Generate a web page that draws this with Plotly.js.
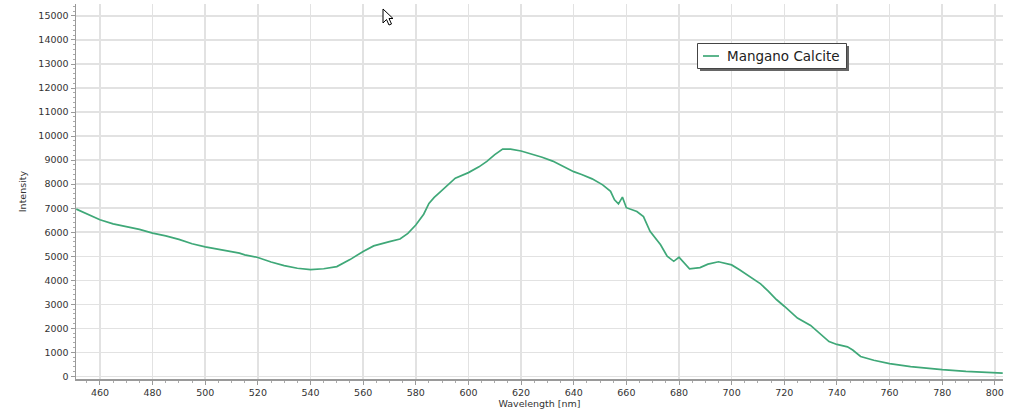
<!DOCTYPE html>
<html>
<head>
<meta charset="utf-8">
<script src="https://cdn.plot.ly/plotly-3.0.1.min.js"></script>
<style>html,body{margin:0;padding:0;background:#fff;}#chart{width:1024px;height:419px;}</style>
</head>
<body>
<div id="chart"></div>
<script>
const seriesName = "Mangano Calcite";
const wavelength = [451,455,460,465,470,475,480,485,490,495,500,505,510,513,515,520,525,530,535,540,545,550,555,560,564,567,570,574,577,580,583,585,587,589,592,595,600,604,607,610,613,616,620,624,628,632,636,640,643,647,651,654,655.5,657,658.5,660,664,666.5,669,673,675.5,678,680,681.5,684,688,691,695,698,700,703,707,711,714,717,720,725,730,734,737,740,744,746,749,754,760,768,775,780,789,795,800,803];
const intensity = [6960,6750,6520,6350,6230,6120,5960,5850,5700,5520,5390,5300,5200,5130,5060,4950,4760,4610,4500,4440,4480,4570,4860,5200,5430,5530,5610,5720,5950,6300,6750,7200,7450,7650,7950,8250,8480,8720,8950,9230,9460,9460,9380,9260,9120,8960,8750,8520,8400,8220,7970,7700,7350,7180,7460,7020,6860,6650,6040,5480,5000,4790,4960,4780,4480,4530,4670,4770,4700,4640,4440,4150,3850,3540,3200,2920,2430,2120,1730,1450,1330,1230,1100,830,670,530,410,330,280,210,180,160,140];
const xTicks = [460,480,500,520,540,560,580,600,620,640,660,680,700,720,740,760,780,800];
const yTicks = [0,1000,2000,3000,4000,5000,6000,7000,8000,9000,10000,11000,12000,13000,14000,15000];

const lineColor = '#3fa878';
const W = 1024, H = 419, L = 76, R = 21, T = 4, B = 40;
const pw = W - L - R, ph = H - T - B;
function pxn(x){ return (x - L) / pw; }
function pyn(y){ return (H - B - y) / ph; }
const cur = [[383,9],[383,23],[386.5,19.5],[389,25],[391.5,24],[389,18.5],[393,18.5]];
const curPath = 'M' + cur.map(p => pxn(p[0]).toFixed(5) + ',' + pyn(p[1]).toFixed(5)).join(' L') + ' Z';

const trace = {
  x: wavelength, y: intensity, type: 'scatter', mode: 'lines', name: seriesName,
  line: {color: lineColor, width: 1.7}, showlegend: false
};
const fam = 'DejaVu Sans, Verdana, sans-serif';
const axFont = {family: fam, size: 9.5, color: '#333'};
const legL = 697.5, legR = 846.5, legT = 43.5, legB = 68.5;
const layout = {
  width: W, height: H,
  margin: {l: L, r: R, t: T, b: B},
  paper_bgcolor: '#fff', plot_bgcolor: '#fff',
  showlegend: false,
  xaxis: {
    range: [450.9, 803.1], tickvals: xTicks, ticktext: xTicks.map(String),
    showgrid: true, gridcolor: '#e2e2e2', gridwidth: 1.5,
    showline: true, linecolor: '#9a9a9a', linewidth: 1.5,
    ticks: 'outside', ticklen: 4, tickcolor: '#9a9a9a',
    minor: {dtick: 5, tick0: 0, ticks: 'outside', ticklen: 2, tickcolor: '#aaa', showgrid: false},
    tickfont: axFont, zeroline: false,
    title: {text: 'Wavelength [nm]', font: {family: fam, size: 9.5, color: '#333'}, standoff: 2}
  },
  yaxis: {
    range: [-108, 15497], tickvals: yTicks, ticktext: yTicks.map(String),
    showgrid: true, gridcolor: '#e2e2e2', gridwidth: 1.5,
    showline: true, linecolor: '#9a9a9a', linewidth: 1.5,
    ticks: 'outside', ticklen: 4, tickcolor: '#9a9a9a',
    minor: {dtick: 200, tick0: 0, ticks: 'outside', ticklen: 2, tickcolor: '#aaa', showgrid: false},
    tickfont: axFont, zeroline: false,
    title: {text: 'Intensity', font: {family: fam, size: 9.5, color: '#333'}, standoff: 10}
  },
  shapes: [
    {type: 'rect', xref: 'paper', yref: 'paper', layer: 'above',
     x0: pxn(legL + 2.5), x1: pxn(legR + 2.5), y0: pyn(legB + 2.5), y1: pyn(legT + 2.5),
     fillcolor: '#666', line: {width: 0}},
    {type: 'rect', xref: 'paper', yref: 'paper', layer: 'above',
     x0: pxn(legL), x1: pxn(legR), y0: pyn(legB), y1: pyn(legT),
     fillcolor: '#fff', line: {color: '#444', width: 1}},
    {type: 'line', xref: 'paper', yref: 'paper', layer: 'above',
     x0: pxn(703), x1: pxn(719), y0: pyn(56), y1: pyn(56),
     line: {color: lineColor, width: 1.7}},
    {type: 'path', xref: 'paper', yref: 'paper', layer: 'above', path: curPath,
     fillcolor: '#fff', line: {color: '#000', width: 1}}
  ],
  annotations: [
    {xref: 'paper', yref: 'paper', x: pxn(725), y: pyn(56), xanchor: 'left', yanchor: 'middle',
     text: seriesName, showarrow: false, font: {family: fam, size: 13.5, color: '#222'}}
  ]
};
Plotly.newPlot('chart', [trace], layout, {displayModeBar: false, staticPlot: true});
</script>
</body>
</html>
